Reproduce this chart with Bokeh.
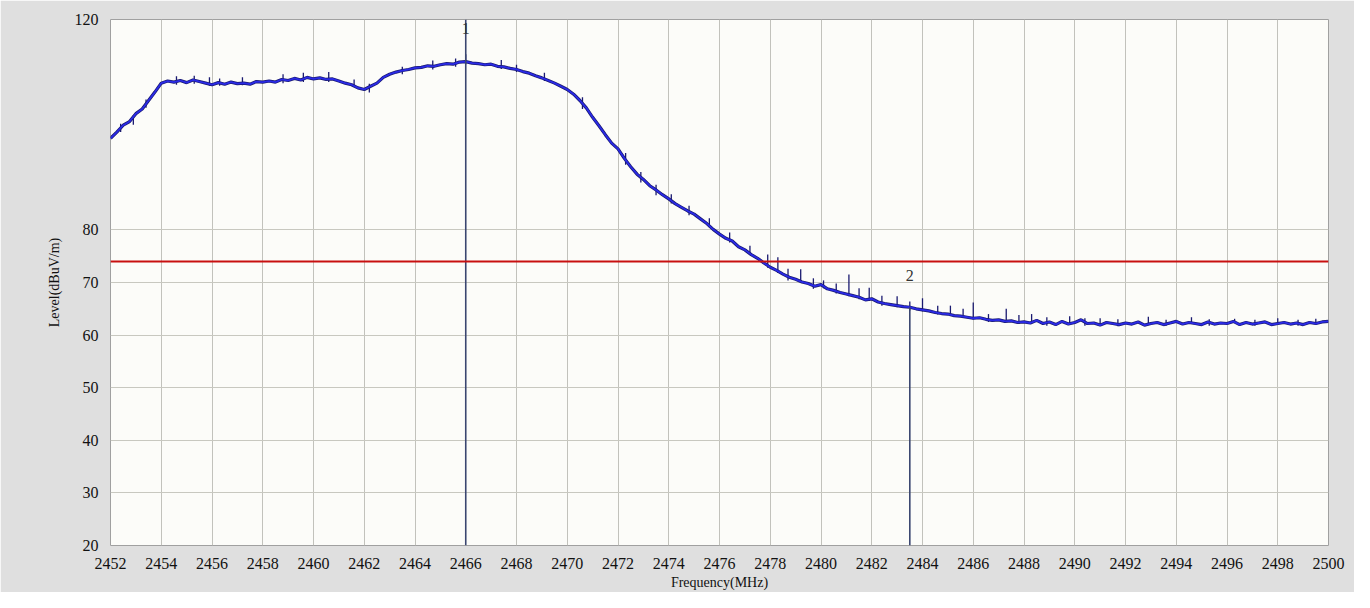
from bokeh.plotting import figure
from bokeh.models import FixedTicker, Range1d, Span, ColumnDataSource, BoxAnnotation
from bokeh.core.properties import value
from bokeh.embed import file_html
from bokeh.resources import INLINE

# ---- data ----
freq_start = 2452.0
freq_step = 0.25
level_dbuv = [
    97.4, 98.6, 99.9, 100.6, 102.1, 103.0, 104.6, 106.2,      # 2452
    107.9, 108.3, 108.1, 108.4, 108.0, 108.5, 108.2, 107.9,   # 2454
    107.6, 108.0, 107.7, 108.1, 107.8, 107.9, 107.7, 108.2,   # 2456
    108.1, 108.3, 108.1, 108.6, 108.4, 108.8, 108.5, 109.0,   # 2458
    108.7, 108.9, 108.6, 108.7, 108.3, 107.9, 107.6, 107.0,   # 2460
    106.7, 107.3, 107.9, 109.0, 109.6, 110.0, 110.3, 110.5,   # 2462
    110.8, 110.9, 111.2, 111.1, 111.4, 111.6, 111.5, 111.9,   # 2464
    112.0, 111.7, 111.6, 111.4, 111.5, 111.1, 111.0, 110.7,   # 2466
    110.5, 110.1, 109.8, 109.3, 108.9, 108.4, 107.9, 107.3,   # 2468
    106.7, 105.8, 104.6, 103.2, 101.4, 99.8, 98.1, 96.5,      # 2470
    95.4, 93.6, 92.0, 90.6, 89.6, 88.4, 87.6, 86.7,           # 2472
    85.9, 85.0, 84.3, 83.6, 83.0, 82.1, 81.2, 80.1,           # 2474
    79.2, 78.4, 77.9, 76.8, 76.2, 75.3, 74.6, 73.7,           # 2476
    72.9, 72.3, 71.6, 71.0, 70.6, 70.1, 69.8, 69.3,           # 2478
    69.6, 68.8, 68.5, 68.1, 67.8, 67.5, 67.2, 66.7,           # 2480
    66.9, 66.3, 66.0, 65.8, 65.6, 65.4, 65.3, 65.0,           # 2482
    64.8, 64.6, 64.3, 64.1, 64.0, 63.7, 63.6, 63.4,           # 2484
    63.2, 63.3, 63.0, 62.8, 62.9, 62.6, 62.7, 62.4,           # 2486
    62.5, 62.3, 62.8, 62.2, 62.5, 62.0, 62.6, 62.1,           # 2488
    62.4, 62.9, 62.2, 62.3, 61.9, 62.4, 62.2, 62.0,           # 2490
    62.3, 62.1, 62.5, 61.9, 62.2, 62.4, 62.0, 62.3,           # 2492
    62.6, 62.1, 62.4, 62.2, 62.0, 62.5, 62.1, 62.3,           # 2494
    62.2, 62.6, 62.0, 62.4, 62.1, 62.3, 62.5, 62.0,           # 2496
    62.2, 62.4, 62.1, 62.3, 62.0, 62.4, 62.2, 62.5,           # 2498
    62.6,                                                     # 2500
]
freq_mhz = [freq_start + i * freq_step for i in range(len(level_dbuv))]

# noise spikes on the trace (frequency, bottom, top)
spike_freq = [2452.4, 2452.9, 2453.4, 2454.6, 2455.3, 2455.9, 2456.3, 2457.2, 2458.8,
              2459.6, 2460.6, 2461.6, 2462.2, 2463.5, 2464.7, 2465.6, 2466.0, 2467.4,
              2468.0, 2469.1,
              2470.6, 2472.3, 2472.9, 2473.5, 2474.1, 2474.8, 2475.6, 2476.4, 2477.2,
              2477.9, 2478.3, 2478.7, 2479.2, 2479.7, 2480.1, 2480.6, 2481.1, 2481.5,
              2481.9, 2482.4, 2483.0, 2483.5, 2484.0, 2484.6, 2485.1, 2485.6, 2486.0,
              2486.6, 2487.3, 2487.8, 2488.3, 2488.9, 2489.8, 2490.4, 2491.0, 2491.7,
              2492.9, 2493.6, 2494.6, 2495.3, 2496.3, 2497.1, 2498.0, 2498.8, 2499.5]
spike_lo = [98.6, 100.0, 103.2, 107.6, 107.8, 107.4, 107.4, 107.5, 107.9,
            108.1, 108.1, 107.2, 106.1, 109.6, 110.5, 111.0, 111.5, 110.6,
            110.0, 108.3,
            103.0, 92.4, 89.0, 86.6, 85.0, 82.8, 80.5, 77.6, 75.4,
            72.8, 71.8, 70.4, 69.9, 68.8, 68.9, 67.9, 67.4, 66.8,
            66.5, 65.6, 65.3, 64.7, 64.5, 63.9, 63.8, 63.3, 63.0,
            62.5, 62.6, 62.1, 62.3, 61.8, 62.1, 61.8, 61.9, 61.7,
            62.1, 61.8, 62.2, 61.8, 62.3, 61.8, 61.9, 61.8, 62.0]
spike_hi = [100.2, 101.8, 104.8, 109.2, 109.3, 109.0, 108.8, 109.0, 109.6,
            109.9, 110.0, 108.6, 107.8, 111.0, 112.2, 112.6, 113.4, 112.3,
            111.4, 109.9,
            105.2, 94.6, 91.0, 88.6, 86.8, 84.6, 82.2, 79.5, 77.0,
            75.3, 74.8, 72.6, 72.5, 70.8, 70.4, 69.8, 71.5, 68.9,
            69.0, 67.5, 67.4, 66.4, 67.0, 65.6, 65.6, 65.0, 66.2,
            64.0, 65.0, 63.8, 64.0, 63.4, 63.6, 63.2, 63.2, 63.0,
            63.5, 62.9, 63.4, 63.0, 63.1, 62.9, 63.2, 62.9, 63.1]

limit_level = 74.0
marker_names = ["1", "2"]
marker_freq = [2466.0, 2483.5]
marker_level = [120.0, 65.3]
marker_label_level = [118.3, 71.3]

x_ticks = list(range(2452, 2501, 2))
y_ticks = [20, 30, 40, 50, 60, 70, 80, 120]

# ---- figure ----
SERIF = "Liberation Serif"
p = figure(width=1354, height=592, output_backend="svg", toolbar_location=None,
           x_range=Range1d(2452, 2500), y_range=Range1d(20, 120),
           min_border_left=110, min_border_right=26, min_border_top=19, min_border_bottom=44)
p.background_fill_color = "#fcfcf9"
p.border_fill_color = "#dfdfdf"
p.outline_line_color = "#a0a0a0"
p.outline_line_width = 1

p.xaxis.ticker = FixedTicker(ticks=x_ticks)
p.yaxis.ticker = FixedTicker(ticks=y_ticks)
for ax in (p.xaxis[0], p.yaxis[0]):
    ax.axis_line_color = None
    ax.major_tick_line_color = None
    ax.minor_tick_line_color = None
    ax.major_label_text_font = SERIF
    ax.major_label_text_font_size = "16px"
    ax.major_label_text_color = "#111111"
    ax.axis_label_text_font = SERIF
    ax.axis_label_text_font_size = "14px"
    ax.axis_label_text_font_style = "normal"
    ax.axis_label_text_color = "#111111"
p.xaxis.axis_label = "Frequency(MHz)"
p.yaxis.axis_label = "Level(dBuV/m)"
p.xaxis.major_label_standoff = 6
p.xaxis.axis_label_standoff = 3
p.yaxis.major_label_standoff = 6
p.yaxis.axis_label_standoff = 10

p.xgrid.grid_line_color = "#c2c2bc"
p.ygrid.grid_line_color = "#c8c8c0"
p.xgrid.grid_line_width = 1
p.ygrid.grid_line_width = 1

# window edge on the right
p.add_layout(BoxAnnotation(left=1342, right=1354, top=0, bottom=592,
                           left_units="canvas", right_units="canvas",
                           top_units="canvas", bottom_units="canvas",
                           fill_color="#8c8c8c", fill_alpha=1.0, line_color=None))

# limit line
p.add_layout(Span(location=limit_level, dimension="width", line_color="#c81010", line_width=2))

# trace
src = ColumnDataSource(dict(f=freq_mhz, v=level_dbuv))
p.line("f", "v", source=src, line_color="#1a1a70", line_width=3.2)
p.segment(x0=spike_freq, y0=spike_lo, x1=spike_freq, y1=spike_hi,
          line_color="#1a1a70", line_width=1.3)
p.line("f", "v", source=src, line_color="#2a2ae6", line_width=1.8)

# markers
p.segment(x0=marker_freq, y0=[20, 20], x1=marker_freq, y1=marker_level,
          line_color="#3a4670", line_width=1.6)
p.text(x=marker_freq, y=marker_label_level, text=marker_names,
       text_font=value(SERIF), text_font_size="16px", text_color="#333333",
       text_align="center", text_baseline="middle")

open("out.html", "w").write(file_html(p, INLINE))
